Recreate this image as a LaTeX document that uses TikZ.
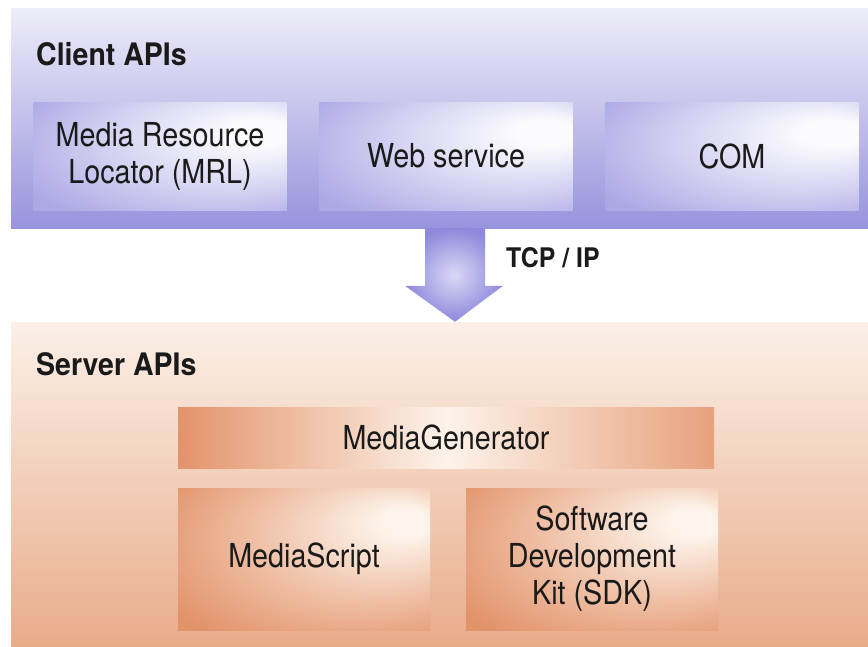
\documentclass[tikz,border=0pt]{standalone}
\usepackage{fontspec}
\setmainfont{TeX Gyre Heros}
\newfontfamily\boxfont[FakeStretch=0.87]{TeX Gyre Heros}
\newfontfamily\headfont[FakeStretch=0.92]{TeX Gyre Heros}
\usetikzlibrary{shadings,calc}

\definecolor{bandtop}{HTML}{EEEDF9}
\definecolor{bandbot}{HTML}{9893DD}
\definecolor{cliin}{HTML}{FBFBFE}
\definecolor{cliout}{HTML}{ACA7E5}
\definecolor{srvtop}{HTML}{FCF0E8}
\definecolor{srvbot}{HTML}{E8AC8A}
\definecolor{srvin}{HTML}{FDF3EA}
\definecolor{srvout}{HTML}{E3936A}
\definecolor{arrin}{HTML}{DAD8F6}
\definecolor{arrout}{HTML}{8E89DB}
\definecolor{txt}{HTML}{1A1A1A}

\pgfdeclareradialshading{clientglow}{\pgfpoint{22bp}{12bp}}{color(0bp)=(cliin); color(6bp)=(cliin); color(24bp)=(cliin!50!cliout); color(40bp)=(cliout); color(60bp)=(cliout)}
\pgfdeclareradialshading{serverglow}{\pgfpoint{22bp}{14bp}}{color(0bp)=(srvin); color(5bp)=(srvin); color(22bp)=(srvin!50!srvout); color(40bp)=(srvout); color(60bp)=(srvout)}

\begin{document}
\begin{tikzpicture}[x=1pt,y=-1pt,
	boxtext/.style={text=txt,align=center,inner sep=0pt,font=\fontsize{33}{37}\boxfont},
	headtext/.style={text=txt,anchor=base west,inner sep=0pt,font=\fontsize{31}{36}\headfont\bfseries},
	clientbox/.style={boxtext,shading=clientglow,minimum width=253pt,minimum height=108pt},
	serverbox/.style={boxtext,shading=serverglow,minimum width=252pt,minimum height=142pt}]

	%%Hintergrund
	\fill[white] (0,0) rectangle (868,646);
	\useasboundingbox (0,0) rectangle (868,646);

	%%Baender
	\node[top color=bandtop,bottom color=bandbot,minimum width=857pt,minimum height=220pt,inner sep=0pt] (clientband) at (439.5,118) {};
	\node[top color=srvtop,bottom color=srvbot,minimum width=857pt,minimum height=324pt,inner sep=0pt] (serverband) at (439.5,484) {};

	\node[headtext] (clientlbl) at (36,65) {Client APIs};
	\node[headtext] (serverlbl) at (36,375) {Server APIs};

	%%Client-Kaesten
	\foreach \name/\x/\txt in {mrl/160/{Media Resource\\Locator (MRL)},websvc/446/{Web service},com/732/{COM}}
		\node[clientbox] (\name) at (\x,156) {\txt};

	%%Pfeil
	\coordinate (arrowtop) at (clientband.south -| 455,0);
	\coordinate (arrowtip) at (serverband.north -| 455,0);
	\shade[inner color=arrin,outer color=arrout]
		($(arrowtop)+(-30,0)$) -- ($(arrowtop)+(30,0)$) -- ($(arrowtip)+(30,-36)$) -- ($(arrowtip)+(48,-36)$)
		-- (arrowtip) -- ($(arrowtip)+(-50,-36)$) -- ($(arrowtip)+(-30,-36)$) -- cycle;
	\node[headtext,font=\fontsize{27}{30}\headfont\bfseries] (tcpip) at (506,267) {TCP / IP};

	%%Server-Kaesten
	\node[boxtext,left color=srvout,right color=srvout!85!srvin,middle color=srvin,minimum width=536pt,minimum height=61pt] (mediagen) at (446,437.5) {MediaGenerator};
	\node[serverbox] (mediascript) at (304,559) {MediaScript};
	\node[serverbox] (sdk) at (592,559) {Software\\Development\\Kit (SDK)};
\end{tikzpicture}
\end{document}
